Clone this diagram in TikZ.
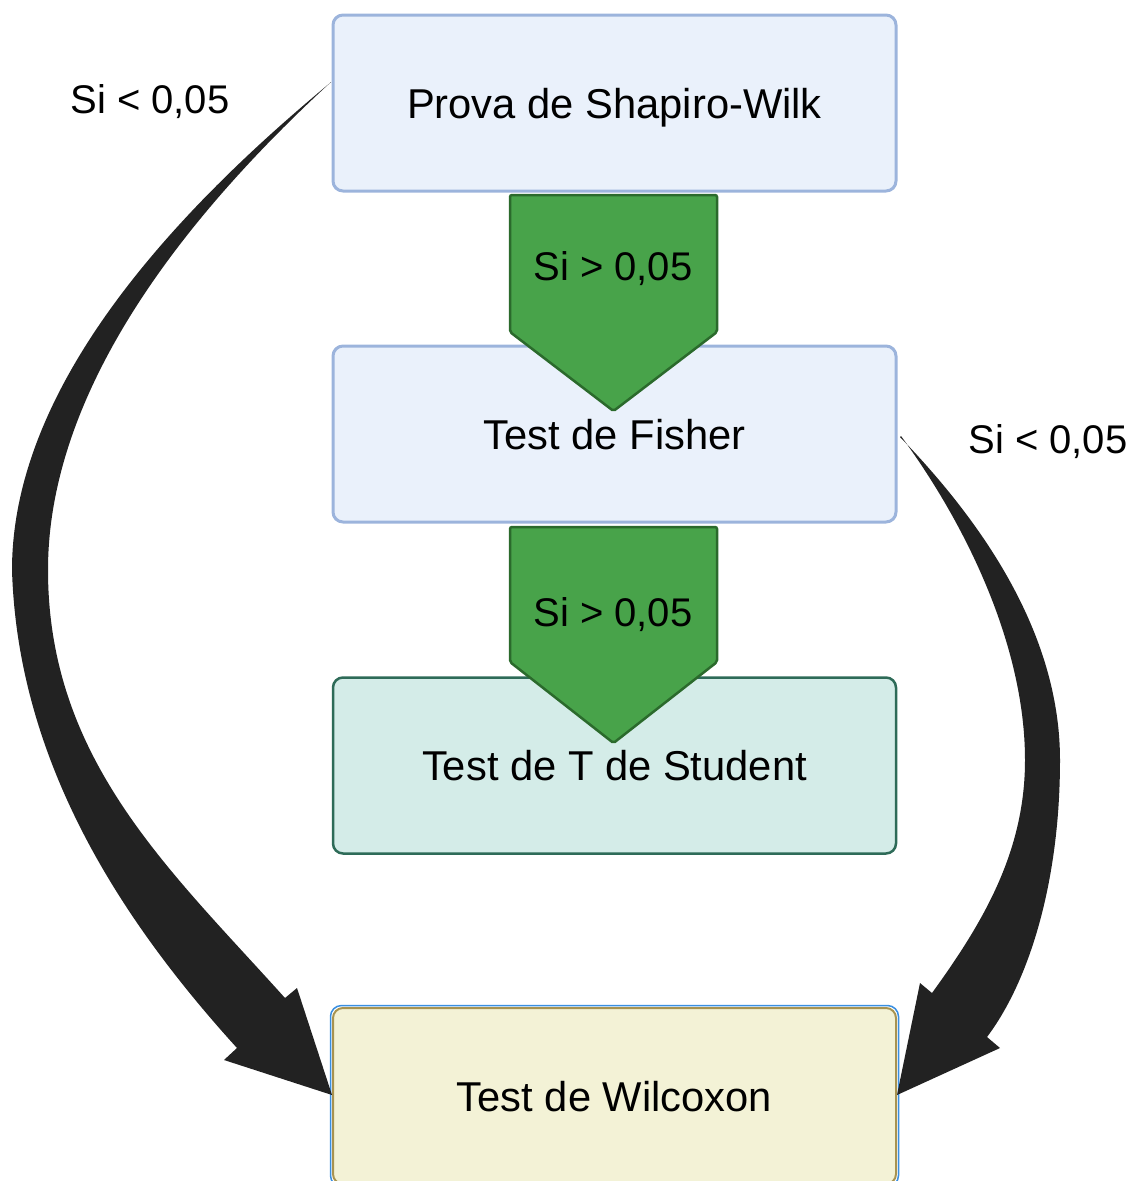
\documentclass[tikz,border=0pt]{standalone}
\usepackage{fontspec}
\setmainfont{Liberation Sans}
\usetikzlibrary{calc}
\definecolor{boxblue}{HTML}{EAF1FB}
\definecolor{boxblueline}{HTML}{9CB4DC}
\definecolor{boxteal}{HTML}{D4ECE8}
\definecolor{boxtealline}{HTML}{2E6B58}
\definecolor{boxyellow}{HTML}{F3F2D6}
\definecolor{boxyellowline}{HTML}{A89350}
\definecolor{edgeblue}{HTML}{3A8FE0}
\definecolor{greenfill}{HTML}{48A34A}
\definecolor{greenline}{HTML}{2B6A2C}
\definecolor{arrowdark}{HTML}{222222}
\begin{document}
\begin{tikzpicture}[x=1pt,y=-1pt,
  box/.style={rectangle, rounded corners=10pt, minimum width=563pt, minimum height=176pt,
    line width=3pt, text height=30pt, text depth=0pt, inner sep=0pt,
    font=\fontsize{41.7}{50}\selectfont},
  bluebox/.style={box, fill=boxblue, draw=boxblueline},
  tealbox/.style={box, fill=boxteal, draw=boxtealline, line width=2.5pt},
  yellowbox/.style={box, fill=boxyellow, draw=boxyellowline, line width=2pt},
  lbl/.style={inner sep=0pt, anchor=base, font=\fontsize{40}{48}\selectfont},
  greenarrow/.style={fill=greenfill, draw=greenline, line width=2.5pt, rounded corners=2pt},
  curvearrow/.style={fill=arrowdark}]
\useasboundingbox (0,0) rectangle (1137,1181);
% boxes
\node[bluebox] (shapiro) at (614.5,103) {Prova de Shapiro-Wilk};
\node[bluebox] (fisher) at (614.5,434) {Test de Fisher};
\node[tealbox] (student) at (614.5,765.5) {Test de T de Student};
\node[yellowbox] (wilcoxon) at (614.5,1096) {Test de Wilcoxon};
\draw[edgeblue, line width=1.5pt, rounded corners=11pt]
  ($(wilcoxon.north west)+(-1.5,-1.5)$) rectangle ($(wilcoxon.south east)+(1.5,1.5)$);
% green block arrows
\draw[greenarrow] (510,195) -- (717,195) -- (717,332) -- (613.5,411) -- (510,332) -- cycle;
\draw[greenarrow] (510,527) -- (717,527) -- (717,662) -- (613.5,743) -- (510,662) -- cycle;
\node[lbl] (g1) at (613,280) {Si > 0,05};
\node[lbl] (g2) at (613,626) {Si > 0,05};
% curved tapered arrows
\fill[curvearrow] (330,83) .. controls (195,195) and (12,375) .. (12,570)
  .. controls (18,770) and (130,930) .. (237,1048) -- (224,1060) -- (332,1095)
  -- (297,988) -- (285,998) .. controls (170,870) and (48,760) .. (48,570)
  .. controls (48,400) and (170,230) .. (331,82) -- cycle;
\fill[curvearrow] (900,437) .. controls (990,530) and (1060,640) .. (1060,760)
  .. controls (1060,880) and (1030,980) .. (987,1037) -- (1000,1048) -- (897,1095)
  -- (920,983) -- (932,993) .. controls (985,920) and (1025,850) .. (1025,760)
  .. controls (1025,650) and (970,530) .. (901,436) -- cycle;
% labels
\node[lbl] (l1) at (150,113) {Si < 0,05};
\node[lbl] (l2) at (1048,453) {Si < 0,05};
\end{tikzpicture}
\end{document}
